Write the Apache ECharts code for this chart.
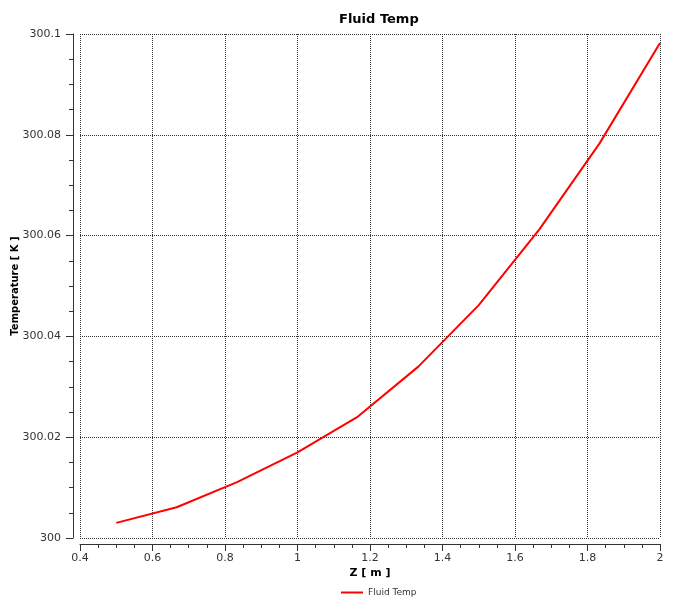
<!DOCTYPE html>
<html><head><meta charset="utf-8">
<script src="https://cdn.jsdelivr.net/npm/echarts@6/dist/echarts.min.js"></script>
<style>html,body{margin:0;padding:0;background:#fff}#c{width:673px;height:597px}</style>
</head><body><div id="c"></div>
<script>
var zValues = [0.5, 0.6667, 0.8333, 1.0, 1.1667, 1.3333, 1.5, 1.6667, 1.8333, 2.0];
var tempValues = [300.003, 300.0061, 300.0111, 300.017, 300.0241, 300.034, 300.0462, 300.0612, 300.0783, 300.0982];
var seriesName = 'Fluid Temp';
var titleText = 'Fluid Temp';
var xName = 'Z [ m ]';
var yName = 'Temperature [ K ]';

var font = 'DejaVu Sans';
var chart = echarts.init(document.getElementById('c'), null, {renderer: 'canvas'});
var gridLine = {show: true, lineStyle: {color: '#333', type: [1, 1], width: 1}};
chart.setOption({
  animation: false,
  backgroundColor: '#fff',
  title: {text: titleText, left: 334, top: 8,
    textStyle: {fontFamily: font, fontSize: 13, fontWeight: 'bold', color: '#000'}},
  legend: {data: [seriesName], left: 336, top: 583, icon: 'rect', itemWidth: 22, itemHeight: 2,
    itemGap: 7, textStyle: {fontFamily: font, fontSize: 9, color: '#333'}},
  grid: {left: 80, right: 13, top: 34, bottom: 59, containLabel: false, outerBoundsMode: 'none'},
  xAxis: {
    type: 'value', min: 0.4, max: 2, interval: 0.2, offset: 6,
    name: xName, nameLocation: 'middle', nameGap: 24, nameMoveOverlap: false,
    nameTextStyle: {fontFamily: font, fontSize: 11, fontWeight: 'bold', color: '#000'},
    axisLine: {show: true, onZero: false, lineStyle: {color: '#333'}},
    axisTick: {show: true, length: 7, lineStyle: {color: '#333'}},
    minorTick: {show: true, splitNumber: 4, length: 4, lineStyle: {color: '#333'}},
    axisLabel: {margin: 9, fontFamily: font, fontSize: 11, color: '#333',
      formatter: function (v) { return String(+v.toFixed(2)); }},
    splitLine: gridLine
  },
  yAxis: {
    type: 'value', min: 300, max: 300.1, interval: 0.02, offset: 7,
    name: yName, nameLocation: 'middle', nameGap: 53, nameRotate: 90, nameMoveOverlap: false,
    nameTextStyle: {fontFamily: font, fontSize: 10, fontWeight: 'bold', color: '#000'},
    axisLine: {show: true, onZero: false, lineStyle: {color: '#333'}},
    axisTick: {show: true, length: 7, lineStyle: {color: '#333'}},
    minorTick: {show: true, splitNumber: 4, length: 4, lineStyle: {color: '#333'}},
    axisLabel: {margin: 12, fontFamily: font, fontSize: 11, color: '#333',
      formatter: function (v) { return String(+v.toFixed(2)); }},
    splitLine: gridLine
  },
  series: [{
    name: seriesName, type: 'line', showSymbol: false, symbol: 'none',
    data: zValues.map(function (z, i) { return [z, tempValues[i]]; }),
    lineStyle: {color: '#ff0000', width: 2}, itemStyle: {color: '#ff0000'}
  }]
});
</script></body></html>
